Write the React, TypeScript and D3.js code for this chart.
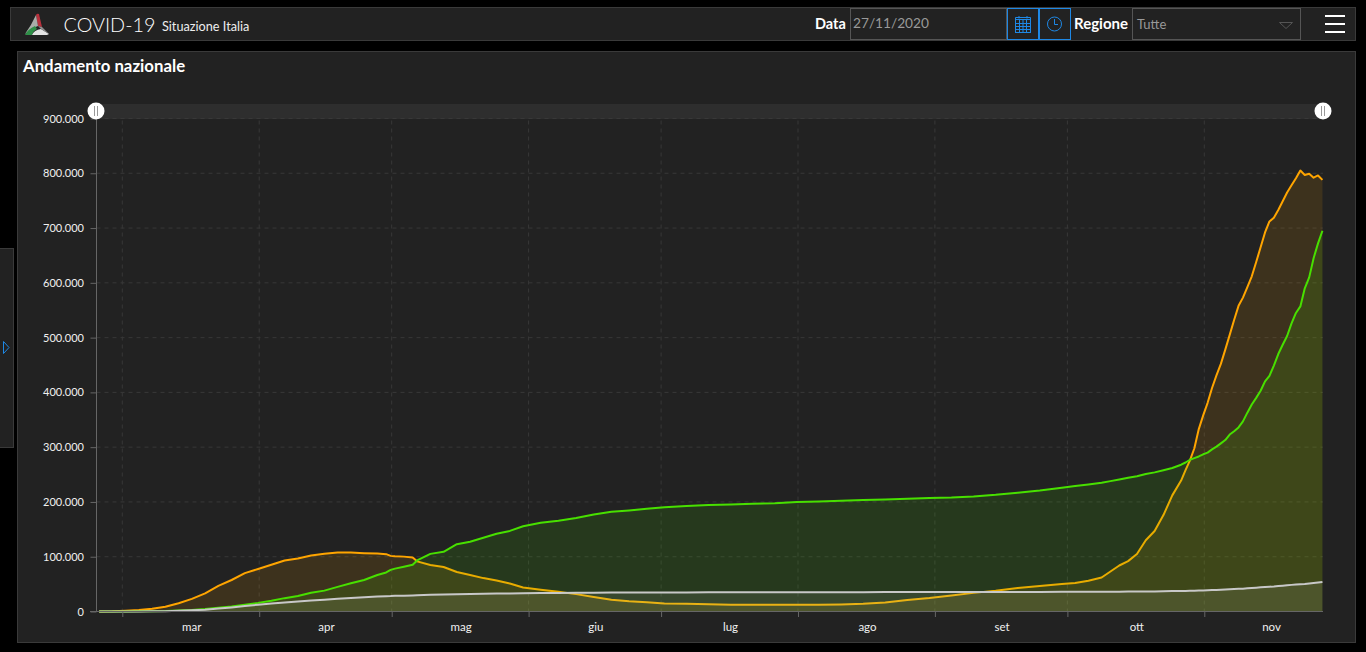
import { useEffect, useRef } from "react";
import * as d3 from "d3";

const width = 1366;
const height = 652;
const plot = { left: 96.5, right: 1323, top: 118.5, bottom: 611.5 };

const bg = "#222222";
const border = "#3a3a3a";
const blue = "#1e88e5";
const font = "Lato, sans-serif";

// one row per month, readings taken at 18:00 of each day
const days = [
  "02-24", "02-27",
  "03-01", "03-04", "03-07", "03-10", "03-13", "03-16", "03-19", "03-22", "03-25", "03-28", "03-31",
  "04-03", "04-06", "04-09", "04-12", "04-15", "04-18", "04-21", "04-24", "04-27", "04-29", "04-30",
  "05-01", "05-03", "05-05", "05-06", "05-09", "05-12", "05-15", "05-18", "05-21", "05-24", "05-27", "05-30",
  "06-03", "06-07", "06-11", "06-15", "06-19", "06-23", "06-27",
  "07-01", "07-06", "07-11", "07-16", "07-21", "07-26", "07-31",
  "08-05", "08-10", "08-15", "08-20", "08-25", "08-30",
  "09-04", "09-09", "09-14", "09-19", "09-24", "09-29",
  "10-02", "10-05", "10-08", "10-10", "10-12", "10-14", "10-16", "10-18", "10-20", "10-22", "10-24", "10-26", "10-27", "10-28", "10-29", "10-30", "10-31",
  "11-01", "11-02", "11-03", "11-04", "11-05", "11-06", "11-07", "11-08", "11-09", "11-10", "11-11", "11-12", "11-13", "11-14",
  "11-15", "11-16", "11-17", "11-18", "11-19", "11-20", "11-21", "11-22", "11-23", "11-24", "11-25", "11-26", "11-27",
];

const positivi = [
  221, 588,
  1577, 2706, 5061, 8514, 14955, 23073, 33190, 46638, 57521, 70065, 77635,
  85388, 93187, 96877, 102253, 105418, 107771, 107709, 106527, 105813, 104657, 101551,
  100943, 100179, 98467, 91528, 84842, 81266, 72070, 66553, 60960, 56594, 50966, 43691,
  39893, 35877, 31710, 26274, 21543, 18655, 17000,
  14600, 14200, 13200, 12500, 12300, 12400, 12400,
  12400, 13000, 14000, 16500, 21000, 24500,
  29000, 34000, 38000, 43000, 46500, 50000,
  52000, 56000, 62000, 73000, 84000, 92000, 105000, 130000, 147000, 176000, 212000, 239000, 258000, 276000, 298000, 333000, 358000,
  381000, 408000, 431000, 452000, 478000, 505000, 532000, 558000, 573000, 592000, 612000, 638000, 665000,
  692000, 712000, 719000, 733000, 749000, 765000, 778000, 791000, 805000, 797000, 799000, 792000, 796000, 788000,
];

const guariti = [
  1, 46,
  83, 276, 589, 1004, 1966, 2749, 4440, 7024, 9362, 12384, 15729,
  19758, 24392, 28470, 34211, 38092, 44927, 51600, 57576, 66624, 71252, 75945,
  78249, 81654, 85231, 93245, 105186, 109039, 122810, 127326, 134560, 141981, 147101, 155633,
  161895, 165837, 170595, 177010, 181907, 184585, 187615,
  190248, 192815, 194579, 195441, 196806, 197628, 199796,
  200976, 202248, 203326, 204686, 205662, 207000,
  208000, 210000, 213000, 217000, 221000, 226000,
  229000, 232000, 235000, 238000, 241000, 244000, 247000, 251000, 254000, 258000, 262000, 268000, 272000, 277000, 280000, 283000, 287000,
  290000, 296000, 301000, 307000, 313000, 323000, 329000, 336000, 347000, 363000, 378000, 390000, 403000,
  420000, 430000, 449000, 470000, 487000, 503000, 526000, 545000, 557000, 590000, 610000, 645000, 672000, 695000,
];

const deceduti = [
  7, 17,
  34, 107, 233, 631, 1266, 2158, 3405, 5476, 7503, 10023, 12428,
  14681, 16523, 18279, 19899, 21645, 23227, 24648, 25969, 27359, 27967, 28236,
  28710, 28884, 29315, 29684, 30395, 30911, 31610, 32007, 32486, 32785, 33072, 33340,
  33601, 33846, 34114, 34371, 34561, 34675, 34738,
  34767, 34869, 34945, 34997, 35058, 35107, 35141,
  35181, 35209, 35234, 35412, 35437, 35477,
  35518, 35597, 35610, 35668, 35758, 35875,
  35918, 36002, 36061, 36200, 36200, 36300, 36400, 36500, 36600, 36900, 37200, 37400, 37600, 37900, 38100, 38300, 38500,
  38800, 39100, 39400, 39800, 40200, 40600, 41100, 41400, 41700, 42300, 42900, 43500, 44100,
  44700, 45200, 45700, 46500, 47200, 47900, 48600, 49300, 49800, 50400, 51300, 52000, 52800, 53700,
];

const monthStarts = ["03-01", "04-01", "05-01", "06-01", "07-01", "08-01", "09-01", "10-01", "11-01", "12-01"];
const monthLabels = ["mar", "apr", "mag", "giu", "lug", "ago", "set", "ott", "nov"];
const yTicks = [0, 100000, 200000, 300000, 400000, 500000, 600000, 700000, 800000, 900000];

const series = [
  { values: positivi, color: "#ffa500", fill: "#ffa500", opacity: 0.125 },
  { values: guariti, color: "#48e000", fill: "#48e000", opacity: 0.125 },
  { values: deceduti, color: "#c8c8c8", fill: "#ffffff", opacity: 0.08 },
];

const parseDay = d3.timeParse("%Y-%m-%d %H");
const toDate = (d: string, hour = 0) => parseDay(`2020-${d} ${hour}`) as Date;
const dates = days.map((d) => toDate(d, 18));
const ticksX = monthStarts.map((d) => toDate(d));

const x = d3
  .scaleTime()
  .domain([toDate("03-01"), toDate("11-01")])
  .range([122.3, 1204.3]);
const y = d3.scaleLinear().domain([0, 900000]).range([plot.bottom, plot.top]);

const itLocale = d3.formatLocale({
  decimal: ",",
  thousands: ".",
  grouping: [3],
  currency: ["€", ""],
});
const formatY = itLocale.format(",d");

const lineGen = d3
  .line<number>()
  .x((_, i) => x(dates[i]))
  .y((d) => y(d));
const areaGen = d3
  .area<number>()
  .x((_, i) => x(dates[i]))
  .y0(y(0))
  .y1((d) => y(d));

const Handle = ({ cx }: { cx: number }) => (
  <g>
    <circle cx={cx} cy={111} r={8.5} fill="#ffffff" />
    <line x1={cx - 1.5} x2={cx - 1.5} y1={106} y2={116} stroke="#999" />
    <line x1={cx + 1.5} x2={cx + 1.5} y1={106} y2={116} stroke="#999" />
  </g>
);

const Logo = () => (
  <g>
    <path d="M36 15 Q37 13 39 14 L42 27 L38 26 Z" fill="#b8303c" />
    <path d="M36 15 L38 26 L33 28 L25 34 Q31 26 36 15 Z" fill="#a9ada9" />
    <path d="M25 35 Q28 29 35 26 L37 29 Q33 31 32 35 Z" fill="#2f8f48" />
    <path d="M32 35 Q34 30 41 29 L49 34 L47 35 Z" fill="#e4e4e4" />
    <path d="M38 26 L42 27 L49 34 L41 29 Z" fill="#8f8f8f" />
  </g>
);

const App = () => {
  const xAxisRef = useRef<SVGGElement>(null);
  const yAxisRef = useRef<SVGGElement>(null);

  // Draw the axes
  useEffect(() => {
    if (xAxisRef.current) {
      const axis = d3
        .axisBottom(x)
        .tickValues(ticksX.slice(0, -1))
        .tickSize(5.5)
        .tickFormat(() => "");
      const g = d3.select(xAxisRef.current).call(axis);
      g.select(".domain").remove();
      g.selectAll("line").attr("stroke", "#666");
    }
    if (yAxisRef.current) {
      const axis = d3
        .axisLeft(y)
        .tickValues(yTicks)
        .tickSize(6)
        .tickFormat((d) => formatY(d as number));
      const g = d3.select(yAxisRef.current).call(axis);
      g.select(".domain").remove();
      g.selectAll("line").attr("stroke", "#666");
      g.selectAll("text")
        .attr("x", -12.5)
        .attr("fill", "#f0f0f0")
        .style("font-family", font)
        .style("font-size", "11px");
    }
  }, []);

  return (
    <svg
      width={width}
      height={height}
      style={{ position: "fixed", left: 0, top: 0, display: "block", background: "#000" }}
    >
      {/* top bar */}
      <rect x={10.5} y={7.5} width={1345} height={33} fill={bg} stroke={border} />
      <Logo />
      <text x={63.5} y={32} fill="#fff" fontFamily={font} fontSize={19.8} fontWeight={300}>
        COVID-19
      </text>
      <text x={162} y={31} fill="#eee" fontFamily={font} fontSize={12.7}>
        Situazione Italia
      </text>
      <text x={815} y={29} fill="#fff" fontFamily={font} fontSize={14.5} fontWeight={700}>
        Data
      </text>
      <rect x={850.5} y={8.5} width={156} height={31} fill={bg} stroke="#555" />
      <text x={853} y={28} fill="#999" fontFamily={font} fontSize={13.7}>
        27/11/2020
      </text>
      <rect x={1007.5} y={8.5} width={31} height={31} fill={bg} stroke={blue} />
      <rect x={1039.5} y={8.5} width={31} height={31} fill={bg} stroke={blue} />
      {/* calendar icon */}
      <g stroke={blue} fill="none">
        <rect x={1015.5} y={19.5} width={15} height={13} />
        <path d="M1015.5 23.5 H1030.5 M1015.5 26.5 H1030.5 M1015.5 29.5 H1030.5 M1019.5 19.5 V32.5 M1023 19.5 V32.5 M1026.5 19.5 V32.5" />
        <path d="M1015.5 19.5 V17.5 H1030.5 V19.5 M1019 16 V18.5 M1027 16 V18.5" />
      </g>
      {/* clock icon */}
      <g stroke={blue} fill="none">
        <circle cx={1054.5} cy={24} r={7} />
        <path d="M1054.5 19 V24.5 H1058" />
      </g>
      <text x={1074} y={29} fill="#fff" fontFamily={font} fontSize={15} fontWeight={700}>
        Regione
      </text>
      <rect x={1132.5} y={8.5} width={168} height={31} fill={bg} stroke="#555" />
      <text x={1137} y={29} fill="#999" fontFamily={font} fontSize={13}>
        Tutte
      </text>
      <path d="M1279.5 22.5 H1292.5 L1286 28.5 Z" fill="none" stroke="#555" />
      <g fill="#fff">
        <rect x={1325} y={15} width={20} height={2} />
        <rect x={1325} y={23} width={20} height={2} />
        <rect x={1325} y={31} width={20} height={2} />
      </g>

      {/* collapsed side panel */}
      <rect x={-1} y={248.5} width={14.5} height={199} fill={bg} stroke={border} />
      <path d="M3.5 341.5 L9 347.5 L3.5 353.5 Z" fill="none" stroke={blue} />

      {/* chart panel */}
      <rect x={17.5} y={51.5} width={1338} height={591} fill={bg} stroke={border} />
      <text x={23} y={72} fill="#fff" fontFamily={font} fontSize={16.8} fontWeight={700}>
        Andamento nazionale
      </text>

      <rect x={plot.left} y={104} width={plot.right - plot.left} height={15} fill="#2e2e2e" />

      {/* grid */}
      <g stroke="#383838" strokeDasharray="4 4">
        {yTicks.slice(1).map((t) => (
          <line key={t} x1={plot.left} x2={plot.right} y1={y(t)} y2={y(t)} />
        ))}
        {ticksX.slice(0, -1).map((t) => (
          <line key={+t} x1={x(t)} x2={x(t)} y1={plot.top + 2} y2={plot.bottom} />
        ))}
      </g>

      {/* series */}
      {series.map((s) => (
        <g key={s.color}>
          <path d={areaGen(s.values) as string} fill={s.fill} fillOpacity={s.opacity} />
          <path
            d={lineGen(s.values) as string}
            fill="none"
            stroke={s.color}
            strokeWidth={2}
            strokeLinejoin="round"
          />
        </g>
      ))}

      {/* axes */}
      <line x1={plot.left} x2={plot.left} y1={plot.top} y2={plot.bottom} stroke="#666" />
      <line x1={90} x2={plot.right} y1={plot.bottom} y2={plot.bottom} stroke="#666" />
      <g ref={yAxisRef} transform={`translate(${plot.left},0)`} />
      <g ref={xAxisRef} transform={`translate(0,${plot.bottom})`} />
      {monthLabels.map((m, i) => (
        <text
          key={m}
          x={(x(ticksX[i]) + x(ticksX[i + 1])) / 2 + 1}
          y={631}
          textAnchor="middle"
          fill="#f0f0f0"
          fontFamily={font}
          fontSize={11.5}
        >
          {m}
        </text>
      ))}

      <Handle cx={96} />
      <Handle cx={1323} />
    </svg>
  );
};

export default App;
